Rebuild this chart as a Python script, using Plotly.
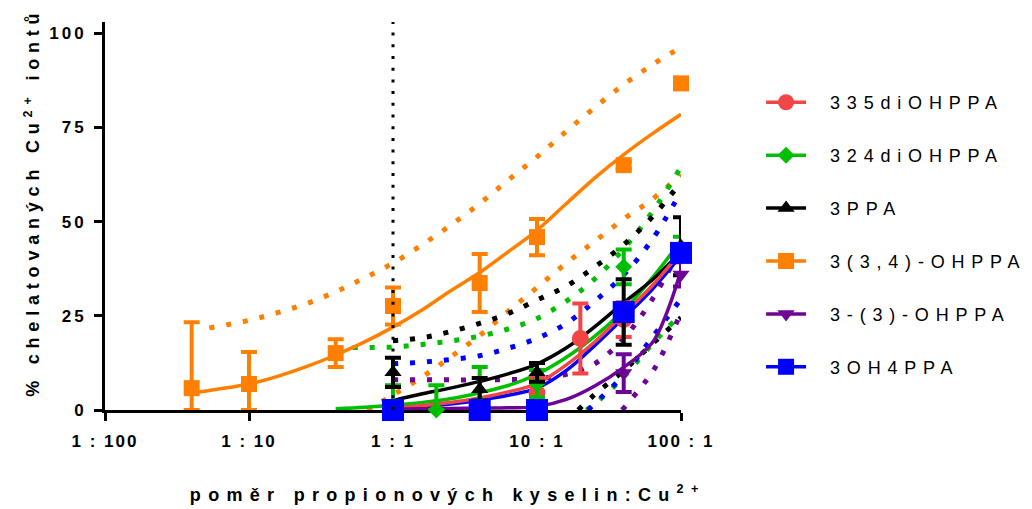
import plotly.graph_objects as go

# ---------------- data ----------------
ratio_ticks = [0.01, 0.1, 1, 10, 100]
ratio_labels = ["1 : 100", "1 : 10", "1 : 1", "10 : 1", "100 : 1"]
pct_ticks = [0, 25, 50, 75, 100]
equimolar_ratio = 1

series_names = ["335diOHPPA", "324diOHPPA", "3PPA", "3(3,4)-OHPPA", "3-(3)-OHPPA", "3OH4PPA"]

# measured points (mean, error bar up / down)
red_x = [10, 20, 40, 100]
red_y = [4.5, 19.0, 24.0, 42.0]
red_ep = [4.0, 9.3, 4.6, 2.0]
red_em = [4.0, 9.3, 4.6, 2.0]

green_x = [1, 2, 4, 10, 40, 100]
green_y = [1.0, 0.0, 2.0, 7.0, 38.0, 43.0]
green_ep = [5.6, 6.6, 9.4, 3.6, 4.6, 3.0]
green_em = [1.0, 0.0, 2.0, 3.6, 4.6, 3.0]

black_x = [1, 4, 10, 40, 100]
black_y = [10.0, 5.5, 10.0, 26.0, 43.5]
black_ep = [3.9, 3.0, 2.5, 8.7, 7.7]
black_em = [3.9, 3.0, 2.5, 8.7, 7.7]

orange_x = [0.04, 0.1, 0.4, 1, 4, 10, 40, 100]
orange_y = [5.8, 6.9, 15.1, 27.6, 33.7, 45.9, 65.0, 86.7]
orange_ep = [17.5, 8.5, 3.7, 4.9, 7.7, 4.8, 1.0, 1.5]
orange_em = [5.8, 6.9, 3.7, 4.9, 7.7, 4.8, 1.0, 1.5]

purple_x = [1, 4, 10, 40, 100]
purple_y = [0.0, 0.0, 0.5, 9.8, 36.0]
purple_ep = [0.5, 0.5, 0.5, 5.0, 3.2]
purple_em = [0.0, 0.0, 0.5, 5.0, 3.2]

blue_x = [1, 4, 10, 40, 100]
blue_y = [0.0, 0.0, 0.0, 26.0, 41.7]
blue_ep = [0.0, 0.0, 0.0, 1.0, 1.0]
blue_em = [0.0, 0.0, 0.0, 1.0, 1.0]

# fitted curves (solid) and confidence bands (dotted)
red_fit_x = [1, 1.6, 2.5, 4, 6.3, 10, 16, 25, 40, 63, 100]
red_fit_y = [0.5, 1.2, 2.0, 3.2, 4.8, 7.0, 12.0, 18.0, 25.5, 33.0, 42.0]

green_fit_x = [0.4, 0.63, 1, 1.6, 2.5, 4, 6.3, 10, 16, 25, 40, 63, 100]
green_fit_y = [0.3, 0.7, 1.3, 2.0, 3.0, 4.6, 6.5, 9.5, 14.0, 19.5, 26.5, 35.0, 45.0]
green_hi_x = [0.4, 0.63, 1, 1.6, 2.5, 4, 6.3, 10, 16, 25, 40, 63, 100]
green_hi_y = [16.5, 16.6, 16.7, 17.4, 18.3, 19.6, 21.5, 24.3, 28.9, 34.7, 42.8, 52.5, 64.5]
green_lo_x = [22, 25, 40, 63, 100]
green_lo_y = [0.0, 1.5, 8.8, 17.5, 25.5]

black_fit_x = [1, 1.6, 2.5, 4, 6.3, 10, 16, 25, 40, 63, 100]
black_fit_y = [2.5, 4.3, 5.8, 7.6, 9.6, 12.2, 16.5, 22.0, 28.5, 34.5, 42.0]
black_hi_x = [1, 1.6, 2.5, 4, 6.3, 10, 16, 25, 40, 63, 100]
black_hi_y = [18.4, 19.2, 20.8, 23.0, 25.6, 29.2, 32.9, 37.9, 43.9, 51.2, 60.5]
black_lo_x = [19.3, 25, 40, 63, 100]
black_lo_y = [0.0, 4.0, 10.5, 17.5, 24.5]

orange_fit_x = [0.04, 0.06, 0.1, 0.16, 0.25, 0.4, 0.63, 1, 1.6, 2.5, 4, 6.3, 10, 16, 25, 40, 63, 100]
orange_fit_y = [4.5, 5.5, 6.9, 9.0, 11.5, 14.6, 18.0, 22.0, 26.6, 31.6, 36.5, 42.0, 47.7, 54.8, 61.5, 67.8, 73.3, 78.5]
orange_hi_x = [0.053, 0.1, 0.16, 0.25, 0.4, 0.63, 1, 1.6, 2.5, 4, 6.3, 10, 16, 25, 40, 63, 100]
orange_hi_y = [21.8, 23.8, 25.9, 28.2, 31.4, 35.0, 39.0, 43.9, 49.0, 54.8, 61.0, 67.2, 74.0, 80.2, 86.4, 91.6, 96.3]
orange_lo_x = [0.66, 1, 1.6, 2.5, 4, 6.3, 10, 16, 25, 40, 63, 100]
orange_lo_y = [0.0, 4.0, 8.8, 14.0, 19.8, 26.2, 32.5, 39.0, 44.7, 50.7, 55.9, 62.5]

purple_fit_x = [1, 1.6, 2.5, 4, 6.3, 10, 16, 25, 40, 63, 80, 100]
purple_fit_y = [0.2, 0.3, 0.4, 0.5, 0.6, 0.9, 2.8, 6.3, 11.3, 17.8, 26.0, 37.0]
purple_hi_x = [1, 1.6, 2.5, 4, 6.3, 10, 16, 25, 40, 63, 100]
purple_hi_y = [8.0, 8.0, 8.0, 8.0, 8.1, 8.3, 9.5, 12.2, 19.0, 29.3, 43.0]
purple_lo_x = [39, 63, 80, 100]
purple_lo_y = [0.0, 10.0, 17.5, 26.0]

blue_fit_x = [1, 1.6, 2.5, 4, 6.3, 10, 16, 25, 40, 63, 100]
blue_fit_y = [0.5, 1.0, 1.6, 2.6, 3.9, 5.8, 10.5, 17.0, 24.5, 32.0, 41.0]
blue_hi_x = [1, 1.6, 2.5, 4, 6.3, 10, 16, 25, 40, 63, 100]
blue_hi_y = [12.3, 12.7, 13.4, 14.4, 16.4, 19.0, 23.0, 28.8, 35.9, 45.2, 58.0]
blue_lo_x = [22.6, 25, 40, 63, 100]
blue_lo_y = [0.0, 1.6, 9.3, 19.2, 29.5]

# ---------------- styles ----------------
RED, GREEN, BLACK, ORANGE, PURPLE, BLUE = "#F24646", "#00BE00", "#000000", "#FF8000", "#6E0496", "#0000FF"
FONT = "Liberation Sans, Arial, sans-serif"

series = [
    dict(name=series_names[0], color=RED, symbol="circle", size=17,
         x=red_x, y=red_y, ep=red_ep, em=red_em,
         fit=(red_fit_x, red_fit_y), hi=None, lo=None),
    dict(name=series_names[1], color=GREEN, symbol="diamond", size=13,
         x=green_x, y=green_y, ep=green_ep, em=green_em,
         fit=(green_fit_x, green_fit_y), hi=(green_hi_x, green_hi_y), lo=(green_lo_x, green_lo_y)),
    dict(name=series_names[2], color=BLACK, symbol="triangle-up", size=15,
         x=black_x, y=black_y, ep=black_ep, em=black_em,
         fit=(black_fit_x, black_fit_y), hi=(black_hi_x, black_hi_y), lo=(black_lo_x, black_lo_y)),
    dict(name=series_names[3], color=ORANGE, symbol="square", size=16,
         x=orange_x, y=orange_y, ep=orange_ep, em=orange_em,
         fit=(orange_fit_x, orange_fit_y), hi=(orange_hi_x, orange_hi_y), lo=(orange_lo_x, orange_lo_y)),
    dict(name=series_names[4], color=PURPLE, symbol="triangle-down", size=15,
         x=purple_x, y=purple_y, ep=purple_ep, em=purple_em,
         fit=(purple_fit_x, purple_fit_y), hi=(purple_hi_x, purple_hi_y), lo=(purple_lo_x, purple_lo_y)),
    dict(name=series_names[5], color=BLUE, symbol="square", size=22,
         x=blue_x, y=blue_y, ep=blue_ep, em=blue_em,
         fit=(blue_fit_x, blue_fit_y), hi=(blue_hi_x, blue_hi_y), lo=(blue_lo_x, blue_lo_y)),
]

fig = go.Figure()

# legend entries (line + marker), one group per series
for s in series:
    fig.add_trace(go.Scatter(
        x=[None], y=[None], mode="lines+markers", name=s["name"], legendgroup=s["name"],
        line=dict(color=s["color"], width=3.5),
        marker=dict(symbol=s["symbol"], size=min(s["size"], 16), color=s["color"], line=dict(width=0)),
        showlegend=True, hoverinfo="skip"))

# confidence bands (dotted) and fits (solid)
line_order = [3, 1, 2, 5, 0, 4]
for i in line_order:
    s = series[i]
    for band in ("hi", "lo"):
        if s[band] is not None:
            bx, by = s[band]
            fig.add_trace(go.Scatter(
                x=bx, y=by, mode="lines", legendgroup=s["name"], showlegend=False,
                line=dict(color=s["color"], width=5, dash="5px,12px", shape="spline"),
                hoverinfo="skip"))
for i in line_order:
    s = series[i]
    fx, fy = s["fit"]
    fig.add_trace(go.Scatter(
        x=fx, y=fy, mode="lines", legendgroup=s["name"], showlegend=False,
        line=dict(color=s["color"], width=3.5, shape="spline"), hoverinfo="skip"))

# measured points with error bars
for s in series:
    fig.add_trace(go.Scatter(
        x=s["x"], y=s["y"], mode="markers", legendgroup=s["name"], showlegend=False,
        cliponaxis=False,
        marker=dict(symbol=s["symbol"], size=s["size"], color=s["color"], line=dict(width=0)),
        error_y=dict(type="data", symmetric=False, array=s["ep"], arrayminus=s["em"],
                     color=s["color"], thickness=4, width=8)))

# vertical dotted reference line at 1 : 1
fig.add_shape(type="line", xref="x", yref="y", x0=equimolar_ratio, x1=equimolar_ratio, y0=0, y1=103,
              line=dict(color="black", width=3, dash="3px,8.7px"), layer="above")

axis_font = dict(family=FONT, size=17, color="black", weight="bold")
fig.update_layout(
    width=1032, height=509,
    margin=dict(l=105, r=351, t=22, b=99, autoexpand=False),
    paper_bgcolor="white", plot_bgcolor="white",
    font=dict(family=FONT, color="black"),
    xaxis=dict(type="log", range=[-2, 2], tickvals=ratio_ticks, ticktext=ratio_labels,
               showline=True, linecolor="black", linewidth=3, ticks="outside", ticklen=8,
               tickwidth=3, tickcolor="black", showgrid=False, zeroline=False,
               tickfont=axis_font, ticklabelstandoff=6, layer="below traces"),
    yaxis=dict(range=[0, 103], tickvals=pct_ticks, showline=True, linecolor="black", linewidth=3,
               ticks="outside", ticklen=8, tickwidth=3, tickcolor="black", showgrid=False,
               zeroline=False, tickfont=axis_font, ticklabelstandoff=4, layer="below traces"),
    legend=dict(x=1.139, y=0.84, xanchor="left", yanchor="top", traceorder="grouped",
                tracegroupgap=26.5, itemwidth=40, font=dict(family=FONT, size=18, color="black"),
                bgcolor="rgba(0,0,0,0)", borderwidth=0),
    showlegend=True,
    annotations=[
        dict(text="poměr propionových kyselin:Cu<sup>2+</sup>", xref="paper", yref="paper",
             x=0.594, y=-0.214, xanchor="center", yanchor="middle", showarrow=False,
             font=dict(family=FONT, size=18, color="black", weight="bold")),
        dict(text="% chelatovaných Cu<sup>2+</sup> iontů", xref="paper", yref="paper",
             x=-0.1267, y=0.535, xanchor="center", yanchor="middle", showarrow=False, textangle=-90,
             font=dict(family=FONT, size=18, color="black", weight="bold")),
    ],
)

post = """
var gd = document.getElementById('{plot_id}');
function fixText(){
  gd.querySelectorAll('.legendtext').forEach(function(e){
    e.style.letterSpacing='6.8px'; e.setAttribute('dx','19');
  });
  gd.querySelectorAll('.xtick text').forEach(function(e){e.style.letterSpacing='2px';});
  gd.querySelectorAll('.ytick text').forEach(function(e){e.style.letterSpacing='3px';});
  var ann = gd.querySelectorAll('.annotation text');
  if (ann.length > 0) ann[0].style.letterSpacing='7.3px';
  if (ann.length > 1) ann[1].style.letterSpacing='5.8px';
  gd.querySelectorAll('.legend [clip-path]').forEach(function(e){e.removeAttribute('clip-path');});
}
fixText();
gd.on('plotly_afterplot', fixText);
"""

fig.write_html("out.html", post_script=post)
